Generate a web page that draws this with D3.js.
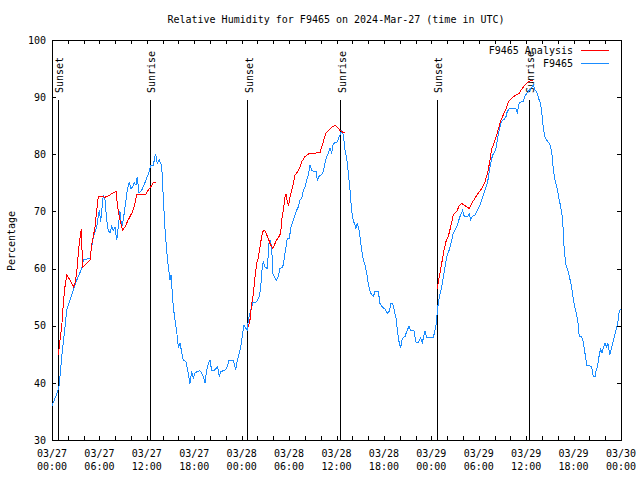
<!DOCTYPE html>
<html><head><meta charset="utf-8">
<script src="https://cdn.jsdelivr.net/npm/d3@7"></script>
<style>
body{margin:0;background:#fff}
svg{display:block}
text{font-family:"DejaVu Sans Mono","Liberation Mono",monospace;font-size:10px;fill:#000}
</style>
</head><body>
<svg id="chart" width="640" height="480"></svg>
<script>
// ---- data ----
const titleText = "Relative Humidity for F9465 on 2024-Mar-27 (time in UTC)";
const yLabelText = "Percentage";
const startTime = "2024-03-27T00:00:00Z";
const spanHours = 72;
const yTicks = [30, 40, 50, 60, 70, 80, 90, 100];
const xTickHours = [0, 6, 12, 18, 24, 30, 36, 42, 48, 54, 60, 66, 72];
const xTickDates = ["03/27","03/27","03/27","03/27","03/28","03/28","03/28","03/28","03/29","03/29","03/29","03/29","03/30"];
const xTickTimes = ["00:00","06:00","12:00","18:00","00:00","06:00","12:00","18:00","00:00","06:00","12:00","18:00","00:00"];
const seriesNames = ["F9465 Analysis", "F9465"];

const sunEventLabels = ["Sunset","Sunrise","Sunset","Sunrise","Sunset","Sunrise"];
const sunEventHours = [0.82, 12.46, 24.74, 36.51, 48.78, 60.42];

// analysis (red): three night segments, null separates segments
const analysisHours = [
 0.80,1.01,1.23,1.43,1.64,1.86,2.28,2.70,2.91,3.13,3.33,3.45,3.63,3.71,3.80,3.88,4.18,4.59,4.81,5.02,5.23,5.44,5.66,5.86,6.29,6.71,6.92,7.34,7.76,8.10,8.26,8.39,8.60,8.82,8.95,9.24,9.53,9.87,10.21,10.50,10.72,11.13,11.89,12.19,12.49,12.82,13.12,
 null,
 24.84,25.05,25.27,25.47,25.69,25.90,26.10,26.32,26.53,26.74,26.95,27.17,27.37,27.58,27.93,28.22,28.43,28.72,28.94,29.06,29.27,29.48,29.61,29.77,29.95,30.12,30.33,30.53,30.75,30.96,31.17,31.38,31.60,31.80,32.01,32.30,32.65,33.28,33.91,34.13,34.33,34.67,34.96,35.39,35.81,36.10,36.44,36.86,37.07,
 null,
 48.75,49.01,49.31,49.60,49.85,50.14,50.45,50.78,51.21,51.54,51.84,52.26,52.80,53.10,53.52,53.94,54.37,54.79,55.13,55.42,55.64,55.93,56.27,56.56,56.81,57.11,57.41,57.74,58.04,58.37,58.80,59.13,59.43,59.85,60.27,60.70,60.90
];
const analysisValues = [
 44.9,47.5,49.8,53.9,56.8,58.9,58.0,56.8,57.4,59.4,62.7,64.4,66.2,67.0,63.2,60.3,60.6,61.2,61.4,64.1,65.6,67.3,70.2,72.6,72.6,72.5,72.6,72.9,73.3,73.5,71.4,70.0,68.5,67.3,66.75,67.3,68.2,69.1,70.0,71.4,72.9,73.05,73.05,73.75,74.3,75.0,75.1,
 null,
 49.8,51.0,53.9,55.4,58.6,60.9,61.8,63.8,65.6,66.7,66.6,65.9,65.3,64.4,63.5,64.4,65.0,65.6,66.2,68.5,70.2,72.5,73.1,71.7,71.1,72.6,73.7,74.9,76.4,76.7,77.2,77.8,78.7,79.1,79.6,79.9,80.2,80.2,80.3,81.3,82.2,83.7,84.1,84.7,85.1,84.7,84.2,83.8,83.8,
 null,
 56.5,58.6,60.9,63.2,64.7,65.6,67.3,69.4,70.0,71.0,71.4,71.0,70.5,71.4,72.3,73.2,74.0,75.2,76.7,79.0,81.0,81.9,83.4,84.8,86.0,86.9,87.8,89.2,89.6,90.1,90.4,90.7,91.4,92.1,92.7,92.9,92.9
];

// station observations (blue)
const stationHours = [
 0,0.67,0.92,1.23,1.52,1.86,2.28,2.70,3.04,3.33,3.76,3.96,4.81,5.02,5.23,5.66,5.98,6.16,6.49,6.71,6.92,7.12,7.34,7.55,7.76,7.97,8.19,8.39,8.60,8.82,9.02,9.24,9.53,9.78,9.96,10.21,10.41,10.63,10.79,11.01,11.35,11.64,11.98,12.31,12.49,12.82,13.10,13.32,13.58,13.88,14.10,14.30,14.51,14.72,14.93,15.06,15.22,15.35,15.56,15.78,15.98,16.20,16.41,16.61,16.96,17.17,17.46,17.68,17.88,18.09,18.39,18.73,19.07,19.36,19.57,19.78,19.99,20.21,20.50,20.75,20.97,21.17,21.38,21.89,22.18,22.40,22.87,23.07,23.24,23.45,23.70,23.92,24.13,24.29,24.55,24.71,24.84,25.05,25.40,25.90,26.23,26.41,26.61,26.74,26.95,27.24,27.46,27.58,27.80,27.93,28.22,28.43,28.64,28.85,29.19,29.39,29.61,29.77,30.03,30.24,30.53,30.84,30.96,31.17,31.38,31.60,31.80,32.01,32.23,32.43,32.65,32.86,33.06,33.41,33.57,33.82,34.13,34.33,34.54,34.76,34.96,35.18,35.39,35.59,35.81,36.10,36.35,36.66,36.86,37.07,37.29,37.49,37.71,37.92,38.12,38.34,38.46,38.63,38.88,39.19,39.39,39.61,39.82,40.02,40.24,40.45,40.66,40.87,41.29,41.50,41.84,42.13,42.42,42.68,42.90,43.11,43.31,43.53,43.74,43.95,44.12,44.33,44.67,44.88,45.17,45.39,45.81,46.06,46.35,46.65,46.86,47.20,47.41,48.25,48.46,48.68,48.75,49.01,49.31,49.60,49.94,50.27,50.58,50.78,50.99,51.28,51.62,51.96,52.17,52.55,52.80,52.98,53.23,53.52,53.81,54.07,54.37,54.66,54.92,55.13,55.33,55.55,55.76,55.93,56.18,56.35,56.56,56.78,57.03,57.23,57.45,57.61,57.87,58.71,58.88,59.12,59.64,59.89,60.27,60.57,60.90,61.12,61.37,61.62,61.84,62.04,62.17,62.38,62.59,62.88,63.10,63.30,63.43,63.61,63.77,63.98,64.19,64.37,64.57,64.70,64.82,65.04,65.25,65.46,65.67,65.89,66.09,66.30,66.52,66.72,67.02,67.23,67.44,67.66,68.08,68.29,68.49,68.71,68.83,69.05,69.25,69.43,69.59,69.81,69.97,70.19,70.35,70.57,70.73,70.95,71.15,71.36,71.58,71.74,71.93
];
const stationValues = [
 36.0,38.3,39.6,44.6,48.1,52.7,54.5,56.2,57.7,58.6,60.0,61.5,61.8,63.8,65.6,67.3,70.2,68.2,72.9,72.0,68.5,66.7,66.2,67.3,66.7,67.3,65.0,67.3,70.0,67.3,68.5,70.8,73.7,75.2,74.0,74.3,75.0,74.6,76.1,73.2,73.7,74.6,75.8,77.0,78.1,78.1,80.1,78.4,79.0,78.0,72.0,67.0,63.2,60.3,58.0,58.9,55.7,53.3,51.0,49.0,46.3,46.9,45.4,44.0,43.7,42.2,39.9,42.0,40.8,41.7,42.0,42.1,41.4,40.0,42.2,43.4,44.0,42.1,42.1,42.5,42.8,41.1,42.0,42.2,42.8,44.0,44.0,43.4,42.2,44.0,45.2,46.6,48.7,50.1,49.5,49.2,51.0,52.2,54.0,54.2,55.1,56.8,60.3,61.2,60.3,60.0,64.4,65.0,63.8,59.2,58.3,58.0,58.6,60.0,60.2,61.8,63.8,65.3,65.3,67.3,68.5,69.7,70.2,70.8,72.0,72.3,73.7,74.3,75.5,76.4,78.1,77.2,77.0,77.0,75.5,76.2,76.4,77.0,78.4,79.6,80.2,81.0,80.2,81.9,82.0,82.2,83.1,84.1,83.4,80.8,79.3,76.8,73.8,70.0,68.4,67.6,67.0,67.9,66.5,63.2,61.5,60.6,59.2,57.4,56.0,55.4,55.1,56.0,56.0,53.9,53.2,52.9,52.2,52.5,53.9,53.9,52.7,51.3,48.7,46.9,46.2,47.8,48.1,49.0,49.9,49.1,49.1,47.1,47.1,47.9,47.1,49.0,47.9,47.9,49.2,50.7,52.7,55.0,56.8,59.2,62.1,63.3,65.0,66.2,66.7,67.6,69.1,70.2,69.1,69.1,69.5,68.5,69.2,69.4,70.2,70.8,72.0,73.2,74.3,75.2,77.0,78.7,79.9,80.2,81.0,82.5,84.0,85.4,86.0,86.1,86.6,87.5,88.0,88.0,87.3,89.0,89.3,90.3,91.0,91.5,92.1,91.25,90.8,89.6,88.8,86.5,84.5,83.0,82.5,82.0,81.3,79.6,77.5,75.8,74.9,73.5,72.0,70.8,69.1,66.5,63.0,60.6,59.75,58.6,57.4,55.4,53.6,52.5,51.0,48.1,48.1,47.2,45.2,43.1,42.95,42.8,41.1,41.1,42.0,43.1,44.9,46.0,45.2,46.3,46.9,46.3,46.9,44.9,45.75,46.9,48.1,49.25,50.4,52.2,53.0
];

// ---- drawing ----
const W = 640, H = 480;
const plot = {left: 52, right: 621, top: 40, bottom: 440};
const t0 = new Date(startTime);
const hToDate = h => new Date(t0.getTime() + h * 3600e3);

const x = d3.scaleUtc().domain([t0, hToDate(spanHours)]).range([plot.left, plot.right]);
const y = d3.scaleLinear().domain([30, 100]).range([plot.bottom, plot.top]);

const svg = d3.select("#chart");
svg.append("rect").attr("width", W).attr("height", H).attr("fill", "#fff");

// title
svg.append("text").attr("x", 336).attr("y", 23).attr("text-anchor", "middle").text(titleText);

// y label
svg.append("text").attr("transform", "translate(15,241) rotate(-90)")
  .attr("text-anchor", "middle").text(yLabelText);

const minorTickDates = d3.range(0, spanHours + 1, 2).map(hToDate);

// bottom axis (ticks inward)
const gB = svg.append("g").attr("transform", `translate(0,${plot.bottom})`)
  .call(d3.axisBottom(x).tickValues(minorTickDates).tickSize(-4).tickFormat(() => ""));
// top axis mirror
const gT = svg.append("g").attr("transform", `translate(0,${plot.top})`)
  .call(d3.axisTop(x).tickValues(minorTickDates).tickSize(-4).tickFormat(() => ""));
// left axis
const gL = svg.append("g").attr("transform", `translate(${plot.left},0)`)
  .call(d3.axisLeft(y).tickValues(yTicks).tickSize(-4).tickPadding(6).tickFormat(d3.format("d")));
// right axis mirror
const gR = svg.append("g").attr("transform", `translate(${plot.right},0)`)
  .call(d3.axisRight(y).tickValues(yTicks).tickSize(-4).tickFormat(() => ""));

[gB, gT, gL, gR].forEach(g => {
  g.select(".domain").remove();
  g.selectAll("line").attr("stroke", "#000").attr("shape-rendering", "crispEdges");
  g.selectAll("text").attr("font-family", null).attr("font-size", null);
});
gL.selectAll("text").attr("fill", "#000");

// bottom two-line labels
const gXL = svg.append("g");
xTickHours.forEach((h, i) => {
  const t = gXL.append("text").attr("x", x(hToDate(h))).attr("text-anchor", "middle");
  t.append("tspan").attr("x", x(hToDate(h))).attr("y", 457).text(xTickDates[i]);
  t.append("tspan").attr("x", x(hToDate(h))).attr("y", 470).text(xTickTimes[i]);
});

// border
svg.append("rect").attr("x", plot.left).attr("y", plot.top)
  .attr("width", plot.right - plot.left).attr("height", plot.bottom - plot.top)
  .attr("fill", "none").attr("stroke", "#000").attr("shape-rendering", "crispEdges");

// sunrise/sunset markers (from graph 0 to graph 0.85)
const gS = svg.append("g");
sunEventHours.forEach((h, i) => {
  const sx = x(hToDate(h));
  gS.append("line").attr("x1", sx).attr("x2", sx)
    .attr("y1", plot.bottom).attr("y2", plot.bottom - 0.85 * (plot.bottom - plot.top))
    .attr("stroke", "#000").attr("shape-rendering", "crispEdges");
  gS.append("text").attr("transform", `translate(${sx + 5},93) rotate(-90)`)
    .attr("text-anchor", "start").text(sunEventLabels[i]);
});

// series lines
const analysisData = analysisHours.map((h, i) => ({h, v: analysisValues[i]}));
const stationData = stationHours.map((h, i) => ({h, v: stationValues[i]}));
const line = d3.line()
  .defined(d => d.h != null && d.v != null)
  .x(d => x(hToDate(d.h)))
  .y(d => y(d.v));

const colors = ["#ff0000", "#1a8cff"];

svg.append("path").datum(stationData).attr("d", line)
  .attr("fill", "none").attr("stroke", colors[1]).attr("stroke-width", 1)
  .attr("shape-rendering", "crispEdges");
svg.append("path").datum(analysisData).attr("d", line)
  .attr("fill", "none").attr("stroke", colors[0]).attr("stroke-width", 1)
  .attr("shape-rendering", "crispEdges");

// legend
const gLeg = svg.append("g");
seriesNames.forEach((name, i) => {
  const ly = 50 + i * 13;
  gLeg.append("text").attr("x", 573).attr("y", ly + 4).attr("text-anchor", "end").text(name);
  gLeg.append("line").attr("x1", 581).attr("x2", 609).attr("y1", ly + 0.5).attr("y2", ly + 0.5)
    .attr("stroke", colors[i]).attr("shape-rendering", "crispEdges");
});
</script>
</body></html>
